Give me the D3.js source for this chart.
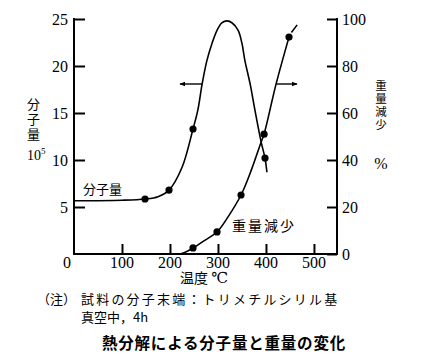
<!DOCTYPE html>
<html><head><meta charset="utf-8">
<script src="https://cdn.jsdelivr.net/npm/d3@7"></script>
<style>
html,body{margin:0;padding:0;background:#fff;}
svg{display:block;}
.num{font-family:"Liberation Serif","DejaVu Serif","Times New Roman",serif;}
.cjk{font-family:"Noto Sans CJK JP","Noto Sans CJK SC",sans-serif;}
.vert{writing-mode:vertical-rl;}
</style></head>
<body>
<script>
// ---- data ----
const xTicks = [100, 200, 300, 400, 500];
const leftTicks = [5, 10, 15, 20, 25];
const rightTicks = [0, 20, 40, 60, 80, 100];

// molecular weight curve (temperature °C, ×10^5)
const mwCurveT = [0, 100, 148, 175, 198, 225, 248, 258, 267, 277, 287.5, 298, 308, 319, 329, 342, 350, 356, 367, 377, 390, 398, 402];
const mwCurveV = [5.67, 5.72, 5.85, 6.1, 6.8, 9.2, 13.3, 15.3, 18.1, 20.6, 22.4, 23.8, 24.6, 24.8, 24.6, 23.8, 22.4, 20.6, 18.1, 15.3, 11.9, 10.2, 8.7];
const mwPtsT = [148, 198, 248, 398];
const mwPtsV = [5.85, 6.8, 13.3, 10.2];

// weight loss curve (temperature °C, %)
const wlCurveT = [221, 235, 248, 270, 298, 320, 348, 370, 390, 396, 421, 448];
const wlCurveV = [0, 1.1, 2.6, 5.5, 9.4, 15.5, 25.1, 36, 47.7, 51, 72.3, 92.3];
const wlDashT = [453, 465];
const wlDashV = [94.3, 97.5];
const wlPtsT = [248, 298, 348, 396, 448];
const wlPtsV = [2.6, 9.4, 25.1, 51, 92.3];

// ---- drawing ----
const W = 425, H = 357;
const svg = d3.select("body").append("svg").attr("width", W).attr("height", H)
  .style("background", "#fff");

const x = d3.scaleLinear().domain([0, 548]).range([74, 337]);
const yL = d3.scaleLinear().domain([0, 25]).range([254, 19]);
const yR = d3.scaleLinear().domain([0, 100]).range([254, 19]);

// axes
const axB = svg.append("g").attr("transform", "translate(0,254)")
  .call(d3.axisTop(x).tickValues(xTicks).tickSize(10).tickFormat(""));
const axL = svg.append("g").attr("transform", "translate(74,0)")
  .call(d3.axisRight(yL).tickValues(leftTicks).tickSize(11).tickFormat(""));
const axR = svg.append("g").attr("transform", "translate(337,0)")
  .call(d3.axisLeft(yR).tickValues(rightTicks).tickSize(10).tickFormat(""));
[axB, axL, axR].forEach(g => {
  g.select(".domain").remove();
  g.selectAll(".tick line").attr("stroke", "#000").attr("stroke-width", 2);
});
svg.append("line").attr("x1", 73).attr("x2", 338).attr("y1", 254).attr("y2", 254)
  .attr("stroke", "#000").attr("stroke-width", 2);
svg.append("line").attr("x1", 74).attr("x2", 74).attr("y1", yL(25) - 1).attr("y2", 255)
  .attr("stroke", "#000").attr("stroke-width", 2);
svg.append("line").attr("x1", 337).attr("x2", 337).attr("y1", yR(100) - 1).attr("y2", 255)
  .attr("stroke", "#000").attr("stroke-width", 2);

// tick labels
svg.append("g").attr("class", "num").selectAll("text").data(xTicks).join("text")
  .attr("x", d => x(d)).attr("y", 268).attr("text-anchor", "middle")
  .attr("font-size", 16).text(d => d);
svg.append("text").attr("class", "num").attr("x", 67).attr("y", 268).attr("text-anchor", "middle")
  .attr("font-size", 16).text("0");
svg.append("g").attr("class", "num").selectAll("text").data(leftTicks).join("text")
  .attr("x", 68).attr("y", d => yL(d) + 5.5).attr("text-anchor", "end")
  .attr("font-size", 16).text(d => d);
svg.append("g").attr("class", "num").selectAll("text").data(rightTicks).join("text")
  .attr("x", 342).attr("y", d => yR(d) + 5.5).attr("text-anchor", "start")
  .attr("font-size", 16).text(d => d);

// curves
const lineL = d3.line().x(d => x(d[0])).y(d => yL(d[1])).curve(d3.curveCatmullRom.alpha(0.5));
const lineR = d3.line().x(d => x(d[0])).y(d => yR(d[1])).curve(d3.curveCatmullRom.alpha(0.5));

svg.append("path").datum(mwCurveT.map((t, i) => [t, mwCurveV[i]]))
  .attr("d", lineL).attr("fill", "none").attr("stroke", "#000").attr("stroke-width", 1.6);
svg.append("path").datum(wlCurveT.map((t, i) => [t, wlCurveV[i]]))
  .attr("d", lineR).attr("fill", "none").attr("stroke", "#000").attr("stroke-width", 1.6);
svg.append("path").datum(wlDashT.map((t, i) => [t, wlDashV[i]]))
  .attr("d", lineR).attr("fill", "none").attr("stroke", "#000").attr("stroke-width", 1.6);

svg.append("g").selectAll("circle").data(mwPtsT.map((t, i) => [t, mwPtsV[i]])).join("circle")
  .attr("cx", d => x(d[0])).attr("cy", d => yL(d[1])).attr("r", 3.6).attr("fill", "#000");
svg.append("g").selectAll("circle").data(wlPtsT.map((t, i) => [t, wlPtsV[i]])).join("circle")
  .attr("cx", d => x(d[0])).attr("cy", d => yR(d[1])).attr("r", 3.6).attr("fill", "#000");

// arrows
svg.append("defs").append("marker").attr("id", "ah").attr("viewBox", "0 0 10 10")
  .attr("refX", 9).attr("refY", 5).attr("markerWidth", 6).attr("markerHeight", 6)
  .attr("orient", "auto").attr("markerUnits", "userSpaceOnUse")
  .append("path").attr("d", "M0,1 L10,5 L0,9 Z").attr("fill", "#000");
svg.append("line").attr("x1", 202).attr("x2", 180).attr("y1", 84).attr("y2", 84)
  .attr("stroke", "#000").attr("stroke-width", 1.4).attr("marker-end", "url(#ah)");
svg.append("line").attr("x1", 276).attr("x2", 297).attr("y1", 84).attr("y2", 84)
  .attr("stroke", "#000").attr("stroke-width", 1.4).attr("marker-end", "url(#ah)");

// labels in plot
svg.append("text").attr("class", "cjk").attr("x", 83).attr("y", 194)
  .attr("font-size", 13).text("分子量");
svg.append("text").attr("class", "cjk").attr("x", 232).attr("y", 231)
  .attr("font-size", 14).attr("letter-spacing", 2).text("重量減少");

// vertical axis titles
svg.append("text").attr("class", "cjk vert").attr("x", 33.5).attr("y", 98)
  .attr("font-size", 13).attr("letter-spacing", 2).text("分子量");
const t105 = svg.append("text").attr("class", "num").attr("x", 27).attr("y", 160).attr("font-size", 14);
t105.append("tspan").text("10");
t105.append("tspan").attr("dy", -6).attr("font-size", 9).text("5");

svg.append("text").attr("class", "cjk vert").attr("x", 381).attr("y", 80)
  .attr("font-size", 11.5).attr("letter-spacing", 1.3).text("重量減少");
svg.append("text").attr("class", "num").attr("x", 381).attr("y", 169).attr("text-anchor", "middle")
  .attr("font-size", 16).text("%");

// x axis title
const xt = svg.append("text").attr("class", "cjk").attr("x", 180).attr("y", 283).attr("font-size", 14);
xt.append("tspan").text("温度 ");
xt.append("tspan").attr("class", "num").attr("font-size", 15).text("℃");

// notes
svg.append("text").attr("class", "cjk").attr("x", 37).attr("y", 304)
  .attr("font-size", 13).text("（注）");
svg.append("text").attr("class", "cjk").attr("x", 81).attr("y", 304)
  .attr("font-size", 13).attr("letter-spacing", 2.2).text("試料の分子末端：トリメチルシリル基");
svg.append("text").attr("class", "cjk").attr("x", 81).attr("y", 322)
  .attr("font-size", 13).text("真空中，4h");

// title
svg.append("text").attr("class", "cjk").attr("x", 224).attr("y", 349).attr("text-anchor", "middle")
  .attr("font-size", 15.5).attr("font-weight", "bold")
  .attr("letter-spacing", 0.8).text("熱分解による分子量と重量の変化");
</script>
</body></html>
